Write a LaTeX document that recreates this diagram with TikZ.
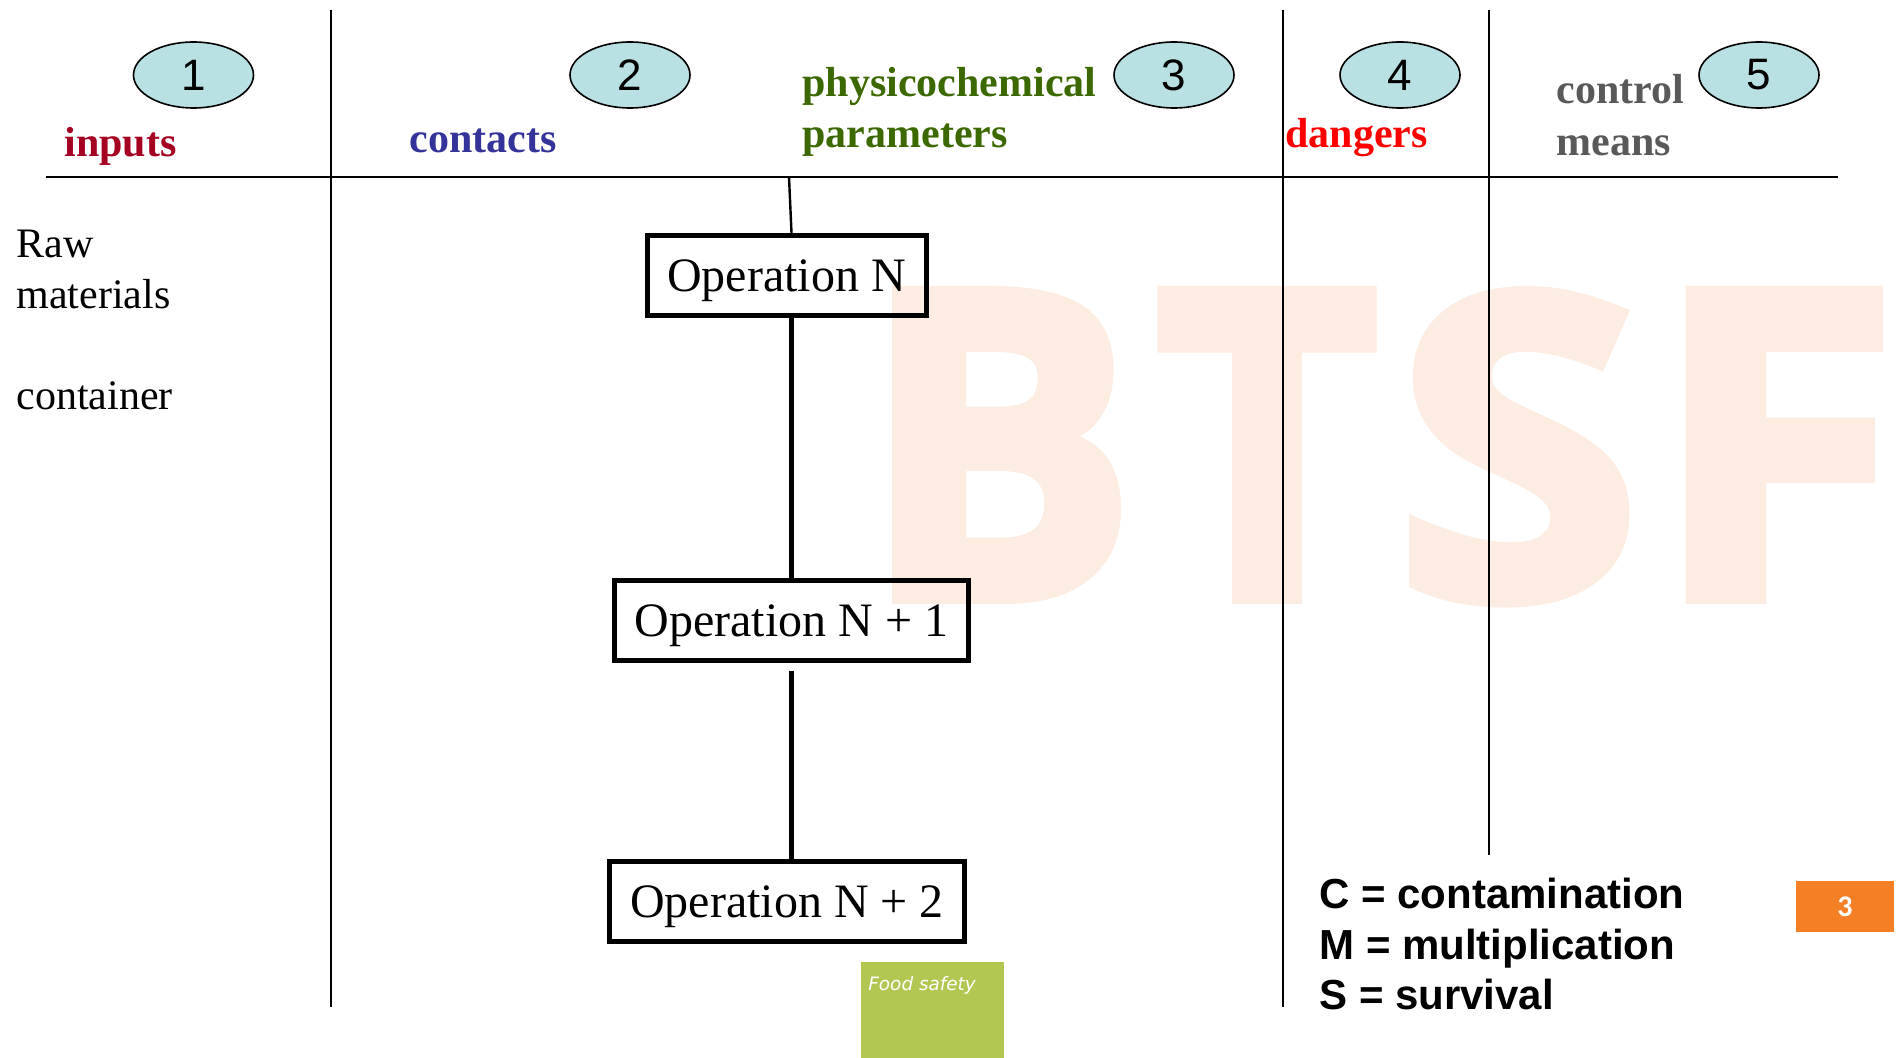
\documentclass[tikz,border=0pt]{standalone}
\usepackage{graphicx}
\usepackage{fontspec}
\setmainfont{Liberation Serif}
\setsansfont{Liberation Sans}
\newfontfamily\wmfont{Open Sans}[BoldFeatures={FakeBold=3}]
\newfontfamily\pagefont{Carlito}
\newfontfamily\tagfont{DejaVu Sans}
\usetikzlibrary{shapes.geometric}

\definecolor{ovalblue}{RGB}{185,224,227}
\definecolor{inred}{RGB}{165,0,33}
\definecolor{conblue}{RGB}{51,51,153}
\definecolor{phygreen}{RGB}{60,104,0}
\definecolor{dangred}{RGB}{255,0,0}
\definecolor{ctrlgray}{RGB}{89,89,89}
\definecolor{wmpeach}{RGB}{253,236,225}
\definecolor{pageorange}{RGB}{244,127,36}
\definecolor{taggreen}{RGB}{178,198,82}

\tikzset{
        rule/.style={line width=1pt}, % column and header lines
        num oval/.style={ellipse, draw, line width=0.8pt, fill=ovalblue,
                minimum width=60pt, minimum height=33pt, inner sep=0pt,
                font=\sffamily\fontsize{22}{26}\selectfont},
        head label/.style={anchor=base west, inner sep=0pt,
                font=\bfseries\fontsize{21}{25}\selectfont},
        side label/.style={anchor=base west, inner sep=0pt,
                font=\fontsize{21}{25}\selectfont},
    }
\tikzset{
      op box/.style={
		draw,
		line width=2.5pt,
		minimum width={#1},
		minimum height=40pt,
		inner sep=0pt,
		text depth=0pt,
		font=\fontsize{24}{28}\selectfont,
	  },
      link/.style={line width=2.5pt},
      thin link/.style={line width=1.2pt},
      wm letter/.style={anchor=north west, inner sep=0pt, text=wmpeach,
                font=\wmfont\bfseries},
      legend/.style={anchor=base west, inner sep=0pt,
                font=\sffamily\bfseries\fontsize{21}{25}\selectfont},
      tag box/.style={anchor=north west, fill=taggreen, inner sep=0pt,
                minimum width=71.5pt, minimum height=48pt},
      page tag/.style={fill=pageorange, text=white, inner sep=0pt,
                minimum width=49pt, minimum height=25.5pt,
                font=\pagefont\bfseries\fontsize{15}{18}\selectfont},
  	}

\begin{document}
\begin{tikzpicture}[x=0.5pt, y=-0.5pt]
    \useasboundingbox (0,0) rectangle (1896,1058);
    % watermark
    \foreach \ch/\xl/\w in {B/861/137.5, T/1155/111.5, S/1395/122.5, F/1652/123}
        \node [wm letter] (wm\ch) at (\xl,292) {\resizebox{\w pt}{152.2pt}{\ch}};
    % grid
    \draw [rule] (46,177) -- (1838,177);
    \draw [rule] (331,10) -- (331,1007);
    \draw [rule] (1283,10) -- (1283,1007);
    \draw [rule] (1489,10) -- (1489,855);
    \foreach \n/\xc in {1/193.5, 2/630, 3/1174, 4/1400, 5/1759}
        \node [num oval] (oval\n) at (\xc,75) {\n};
    \node [head label, text=inred] (inputs) at (64,157) {inputs};
    \node [head label, text=conblue] (contacts) at (409,153) {contacts};
    \node [head label, text=phygreen] (physico) at (802,97) {physicochemical};
    \node [head label, text=phygreen] (params) at (802,147.5) {parameters};
    \node [head label, text=dangred] (dangers) at (1285,147.5) {dangers};
    \node [head label, text=ctrlgray] (control) at (1556,104) {control};
    \node [head label, text=ctrlgray] (means) at (1556,156) {means};
    \node [side label] (raw) at (16,258) {Raw};
    \node [side label] (materials) at (16,309) {materials};
    \node [side label] (container) at (16,410) {container};
    % operations
    \node [op box=139.5pt] (op1) at (786.5,275.5) {Operation N};
    \node [op box=177pt] (op2) at (791.5,621) {Operation N + 1};
    \node [op box=177.5pt] (op3) at (787,901.5) {Operation N + 2};
    \coordinate (tap) at (789,177);
    \draw [thin link] (tap) -- ([xshift=2.5pt]op1.north);
    \draw [link] (op2.north |- op1.south) -- (op2.north);
    \draw [link] ([yshift=-4pt]op2.south) -- (op3.north -| op2.south);
    % legend
    \node [legend] (legC) at (1319,908) {C = contamination};
    \node [legend] (legM) at (1319,959) {M = multiplication};
    \node [legend] (legS) at (1319,1009) {S = survival};
    % footer
    \node [tag box] (tag) at (861,962) {};
    \node [anchor=north west, inner sep=0pt, text=white,
        font=\tagfont\itshape\fontsize{9.2}{11}\selectfont] (tagtext)
        at ([xshift=3.5pt,yshift=-7pt]tag.north west) {Food safety};
    \node [page tag] (page) at (1845,906.5) {3};
  \end{tikzpicture}
\end{document}
